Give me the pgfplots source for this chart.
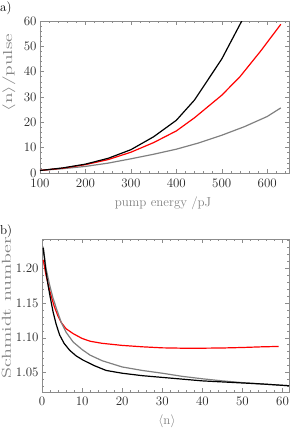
\RequirePackage{fix-cm}
\documentclass[border=0pt]{standalone}
\usepackage{pgfplots}
\pgfplotsset{compat=1.18}
\usepackage{graphicx}
\definecolor{frm}{gray}{0.55}
\definecolor{lbl}{gray}{0.5}
\definecolor{tkl}{gray}{0.15}
\definecolor{cgray}{gray}{0.5}
\begin{document}
\begin{tikzpicture}
\useasboundingbox (0bp,0bp) rectangle (291bp,-428bp);
\pgfplotsset{
 mystyle/.style={
  scale only axis,
  axis line style={frm, line width=0.6bp},
  tick style={frm, line width=0.5bp},
  major tick length=4bp, minor tick length=2bp,
  tick align=inside,
  tick label style={font=\fontsize{13}{15}\selectfont, text=tkl},
  label style={font=\fontsize{13}{15}\selectfont, text=lbl},
  every axis plot/.append style={line width=1.2bp, no marks},
 }}
\begin{axis}[mystyle,
  at={(40bp,-173bp)}, anchor=south west,
  width=249bp, height=152bp,
  xmin=100, xmax=648, ymin=0, ymax=60,
  xtick={100,200,...,600}, ytick={0,10,...,60},
  minor xtick={120,140,...,640}, minor ytick={2,4,...,58},
  xticklabel style={yshift=-3bp},
  xlabel={pump energy /pJ},
  xlabel style={at={(axis description cs:0.494,-0.201)}, anchor=center},
  ylabel={\scalebox{1.5}[1]{$\langle$n$\rangle$/pulse}},
  ylabel style={at={(axis description cs:-0.1245,0.66)}, anchor=center},
]
\addplot[cgray] coordinates {(100,1.0) (150,1.7) (200,2.6) (250,3.9) (300,5.6) (350,7.4) (400,9.4) (450,11.9) (500,14.9) (550,18.3) (600,22.3) (630,25.7)};
\addplot[red] coordinates {(100,1.0) (150,1.9) (200,3.3) (250,5.3) (300,8.2) (350,12.0) (400,16.6) (440,21.8) (500,30.7) (540,38.0) (585,48.0) (630,58.7)};
\addplot[black] coordinates {(100,1.0) (150,2.0) (200,3.5) (250,5.8) (300,9.2) (350,14.3) (400,20.8) (440,28.8) (500,45.0) (547,61.0)};
\end{axis}
\node[anchor=north west, inner sep=0pt, font=\fontsize{13}{15}\selectfont] at (0bp,-2bp) {a)};
\begin{axis}[mystyle,
  at={(42bp,-392bp)}, anchor=south west,
  width=247bp, height=153bp,
  xmin=0, xmax=61.6, ymin=1.022, ymax=1.242,
  xtick={0,10,...,60}, ytick={1.05,1.10,1.15,1.20},
  minor xtick={2,4,...,60},
  minor ytick={1.03,1.04,1.06,1.07,1.08,1.09,1.11,1.12,1.13,1.14,1.16,1.17,1.18,1.19,1.21,1.22,1.23,1.24},
  yticklabel style={/pgf/number format/.cd, fixed, fixed zerofill, precision=2},
  xticklabel style={yshift=-1.3bp},
  xlabel={$\langle$n$\rangle$},
  xlabel style={at={(axis description cs:0.506,-0.194)}, anchor=center},
  ylabel={\scalebox{1.55}[1]{Schmidt number}},
  ylabel style={at={(axis description cs:-0.1437,0.55)}, anchor=center},
]
\addplot[red] coordinates {(0.3,1.212) (1,1.190) (2,1.166) (3,1.146) (4,1.131) (4.8,1.122) (6,1.113) (7.75,1.106) (10,1.099) (12,1.095) (15,1.092) (20,1.089) (25,1.087) (30,1.0855) (35,1.085) (40,1.085) (45,1.0853) (50,1.086) (55,1.087) (59,1.0875)};
\addplot[cgray] coordinates {(0.3,1.231) (1,1.200) (1.9,1.176) (2.7,1.158) (3.6,1.142) (4.8,1.122) (6,1.108) (7.75,1.094) (10,1.083) (12,1.075) (15,1.067) (20,1.058) (25,1.053) (30,1.049) (35,1.0445) (40,1.041) (45,1.038) (50,1.0355) (55,1.0335) (61.6,1.031)};
\addplot[black] coordinates {(0.3,1.229) (1,1.195) (1.5,1.176) (2,1.160) (2.75,1.1375) (3.5,1.120) (4.4,1.104) (5.5,1.092) (6.9,1.082) (8.5,1.074) (10.2,1.068) (13,1.060) (16,1.053) (20,1.049) (25,1.0455) (30,1.043) (35,1.0405) (40,1.038) (45,1.0365) (50,1.035) (55,1.0335) (61.6,1.031)};
\end{axis}
\node[anchor=north west, inner sep=0pt, font=\fontsize{13}{15}\selectfont] at (0bp,-225bp) {b)};
\end{tikzpicture}
\end{document}
